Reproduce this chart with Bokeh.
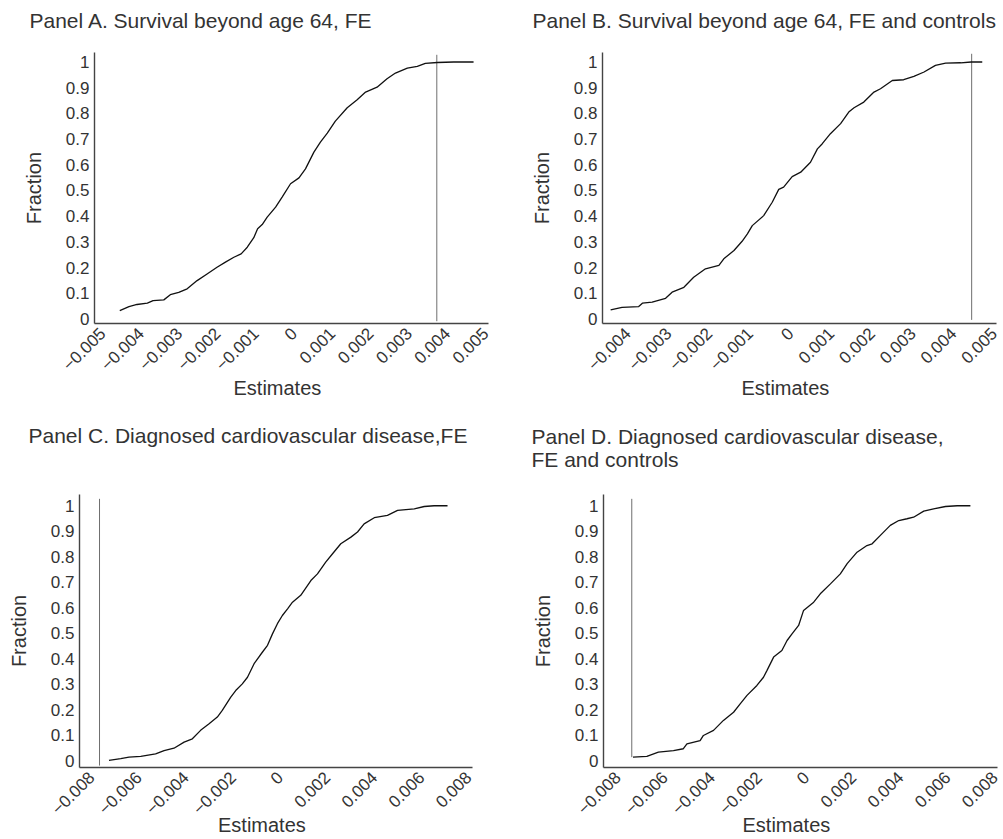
import math
from bokeh.plotting import figure
from bokeh.models import FixedTicker, Range1d, CustomJSTickFormatter, Title
from bokeh.layouts import column, row
from bokeh.embed import file_html
from bokeh.resources import INLINE

FONT = "Liberation Sans"
TXT = "#333333"

# ---------------- data ----------------
titles = [
    "Panel A. Survival beyond age 64, FE",
    "Panel B. Survival beyond age 64, FE and controls",
    "Panel C. Diagnosed cardiovascular disease,FE",
    "Panel D. Diagnosed cardiovascular disease,\nFE and controls",
]
x_label = "Estimates"
y_label = "Fraction"

y_ticks = [0, 0.1, 0.2, 0.3, 0.4, 0.5, 0.6, 0.7, 0.8, 0.9, 1]
y_tick_labels = ["0", "0.1", "0.2", "0.3", "0.4", "0.5", "0.6", "0.7", "0.8", "0.9", "1"]

x_ticks_ab = [-0.005, -0.004, -0.003, -0.002, -0.001, 0, 0.001, 0.002, 0.003, 0.004, 0.005]
x_tick_labels_ab = ["\u22120.005", "\u22120.004", "\u22120.003", "\u22120.002", "\u22120.001", "0",
                    "0.001", "0.002", "0.003", "0.004", "0.005"]
x_ticks_cd = [-0.008, -0.006, -0.004, -0.002, 0, 0.002, 0.004, 0.006, 0.008]
x_tick_labels_cd = ["\u22120.008", "\u22120.006", "\u22120.004", "\u22120.002", "0",
                    "0.002", "0.004", "0.006", "0.008"]

A_x = [-0.00455, -0.00431, -0.00410, -0.00383, -0.00368, -0.00340, -0.00323, -0.00301, -0.00279,
       -0.00253, -0.00227, -0.00201, -0.00179, -0.00157, -0.00138, -0.00122, -0.00105, -0.00095,
       -0.00083, -0.00070, -0.00048, -0.00031, -0.00009, 0.00013, 0.00030, 0.00052, 0.00069,
       0.00087, 0.00108, 0.00139, 0.00165, 0.00187, 0.00217, 0.00243, 0.00265, 0.00296, 0.00322,
       0.00343, 0.00374, 0.00417, 0.00469]
A_y = [0.032, 0.048, 0.056, 0.061, 0.071, 0.074, 0.094, 0.103, 0.117, 0.149, 0.175, 0.201, 0.221,
       0.240, 0.253, 0.279, 0.316, 0.351, 0.367, 0.396, 0.435, 0.474, 0.526, 0.549, 0.584, 0.649,
       0.688, 0.723, 0.770, 0.822, 0.853, 0.883, 0.902, 0.935, 0.957, 0.976, 0.983, 0.995, 0.998,
       1.0, 1.0]

B_x = [-0.00442, -0.00414, -0.00373, -0.00364, -0.00340, -0.00307, -0.00291, -0.00262, -0.00238,
       -0.00209, -0.00176, -0.00164, -0.00139, -0.00119, -0.00106, -0.00094, -0.00066, -0.00045,
       -0.00029, -0.00017, 0.00004, 0.00025, 0.00049, 0.00066, 0.00078, 0.00098, 0.00123, 0.00143,
       0.00156, 0.00180, 0.00205, 0.00221, 0.00250, 0.00278, 0.00303, 0.00328, 0.00356, 0.00381,
       0.00418, 0.00444, 0.00471]
B_y = [0.035, 0.045, 0.048, 0.061, 0.065, 0.080, 0.104, 0.123, 0.162, 0.195, 0.208, 0.234, 0.266,
       0.302, 0.331, 0.363, 0.402, 0.454, 0.504, 0.513, 0.554, 0.571, 0.610, 0.662, 0.682, 0.721,
       0.760, 0.805, 0.822, 0.844, 0.883, 0.896, 0.928, 0.931, 0.944, 0.961, 0.987, 0.996, 0.997,
       1.0, 1.0]

C_x = [-0.00726, -0.00676, -0.00641, -0.00591, -0.00528, -0.00492, -0.00450, -0.00407, -0.00372,
       -0.00337, -0.00301, -0.00266, -0.00245, -0.00209, -0.00188, -0.00160, -0.00138, -0.00110,
       -0.00075, -0.00053, -0.00032, -0.00011, 0.00010, 0.00032, 0.00053, 0.00088, 0.00131,
       0.00159, 0.00194, 0.00223, 0.00258, 0.00301, 0.00329, 0.00357, 0.00400, 0.00456, 0.00499,
       0.00570, 0.00612, 0.00654, 0.00711]
C_y = [0.002, 0.009, 0.015, 0.018, 0.028, 0.041, 0.050, 0.074, 0.087, 0.120, 0.146, 0.172, 0.198,
       0.250, 0.276, 0.302, 0.328, 0.381, 0.426, 0.453, 0.498, 0.538, 0.570, 0.596, 0.622, 0.649,
       0.707, 0.733, 0.779, 0.812, 0.851, 0.877, 0.897, 0.929, 0.953, 0.962, 0.982, 0.988, 0.997,
       1.0, 1.0]

D_x = [-0.00735, -0.00676, -0.00627, -0.00563, -0.00521, -0.00506, -0.00450, -0.00436, -0.00393,
       -0.00351, -0.00308, -0.00280, -0.00251, -0.00209, -0.00181, -0.00166, -0.00138, -0.00103,
       -0.00081, -0.00060, -0.00032, -0.00011, 0.00032, 0.00060, 0.00103, 0.00145, 0.00174,
       0.00216, 0.00258, 0.00280, 0.00315, 0.00357, 0.00393, 0.00428, 0.00456, 0.00499, 0.00541,
       0.00591, 0.00641, 0.00697]
D_y = [0.015, 0.018, 0.035, 0.041, 0.048, 0.067, 0.080, 0.100, 0.120, 0.159, 0.191, 0.224, 0.257,
       0.296, 0.328, 0.355, 0.407, 0.433, 0.472, 0.498, 0.531, 0.590, 0.622, 0.655, 0.694, 0.733,
       0.773, 0.818, 0.844, 0.851, 0.884, 0.923, 0.942, 0.949, 0.955, 0.979, 0.988, 0.997, 1.0, 1.0]

# reference (vertical) lines
vlines = [0.00373, 0.00445, -0.00766, -0.00740]


def label_formatter(tick_values, tick_texts):
    return CustomJSTickFormatter(args=dict(tv=tick_values, tt=tick_texts), code="""
        for (let i = 0; i < tv.length; i++) {
            if (Math.abs(tv[i] - tick) < 1e-9) { return tt[i]; }
        }
        return "";
    """)


def make_panel(title, xs, ys, vx, vy, xr, yr, xticks, xlabels, width, height, border,
               title_offset, title_gap, est_standoff):
    left, right, top, bottom = border
    p = figure(width=width, height=height, x_range=Range1d(*xr), y_range=Range1d(*yr),
               output_backend="svg", toolbar_location=None, title=None,
               min_border_left=left, min_border_right=right,
               min_border_top=top, min_border_bottom=bottom)

    # spacer between frame and title, then the title itself (stacked outward)
    p.add_layout(Title(text=" ", text_font_size="1px", standoff=title_gap - 1), "above")
    p.add_layout(Title(text=title, align="left", offset=title_offset, standoff=0,
                       text_font=FONT, text_font_size="21px", text_font_style="normal",
                       text_color=TXT), "above")

    p.outline_line_color = None
    p.xgrid.visible = False
    p.ygrid.visible = False
    p.background_fill_color = "white"
    p.border_fill_color = "white"

    p.segment(x0=[vx], y0=[vy[0]], x1=[vx], y1=[vy[1]], line_color="#6e6e6e", line_width=1)
    p.line(xs, ys, line_color="#111111", line_width=1.3)

    for ax in (p.xaxis[0], p.yaxis[0]):
        ax.axis_line_color = "#444444"
        ax.axis_line_width = 1.4
        ax.major_tick_line_color = None
        ax.minor_tick_line_color = None
        ax.major_tick_out = 0
        ax.major_tick_in = 0
        ax.major_label_text_font = FONT
        ax.major_label_text_font_size = "17px"
        ax.major_label_text_color = TXT

    xa = p.xaxis[0]
    xa.ticker = FixedTicker(ticks=xticks, minor_ticks=[])
    xa.formatter = label_formatter(xticks, xlabels)
    xa.major_label_orientation = math.pi / 4
    xa.major_label_standoff = 7

    ya = p.yaxis[0]
    ya.ticker = FixedTicker(ticks=y_ticks, minor_ticks=[])
    ya.formatter = label_formatter(y_ticks, y_tick_labels)
    ya.major_label_standoff = 5
    ya.axis_label = y_label
    ya.axis_label_text_font = FONT
    ya.axis_label_text_font_size = "20px"
    ya.axis_label_text_font_style = "normal"
    ya.axis_label_text_color = TXT
    ya.axis_label_standoff = 18

    fw = width - left - right
    p.add_layout(Title(text=x_label, align="left", offset=fw / 2 - 14 - 44,
                       standoff=est_standoff, text_font=FONT, text_font_size="20px",
                       text_font_style="normal", text_color=TXT), "below")
    return p


pA = make_panel(titles[0], A_x, A_y, vlines[0], (-0.009, 1.028), (-0.00521, 0.00508),
                (-0.018, 1.037), x_ticks_ab, x_tick_labels_ab, 500, 412, (94, 12, 52, 89),
                -65, 19, -10)
pB = make_panel(titles[1], B_x, B_y, vlines[1], (-0.004, 1.032), (-0.00462, 0.00506),
                (-0.018, 1.037), x_ticks_ab, x_tick_labels_ab, 503, 412, (102, 7, 52, 89),
                -70, 19, -10)
pC = make_panel(titles[2], C_x, C_y, vlines[2], (-0.018, 1.027), (-0.00851, 0.00817),
                (-0.0255, 1.044), x_ticks_cd, x_tick_labels_cd, 500, 427, (79, 28, 82, 72),
                -51, 46, -25)
pD = make_panel(titles[3], D_x, D_y, vlines[3], (0.015, 1.027), (-0.0086, 0.00812),
                (-0.0255, 1.044), x_ticks_cd, x_tick_labels_cd, 503, 427, (103, 6, 82, 72),
                -72, 22, -25)

layout = column(row(pA, pB), row(pC, pD))
open("out.html", "w").write(file_html(layout, INLINE))
